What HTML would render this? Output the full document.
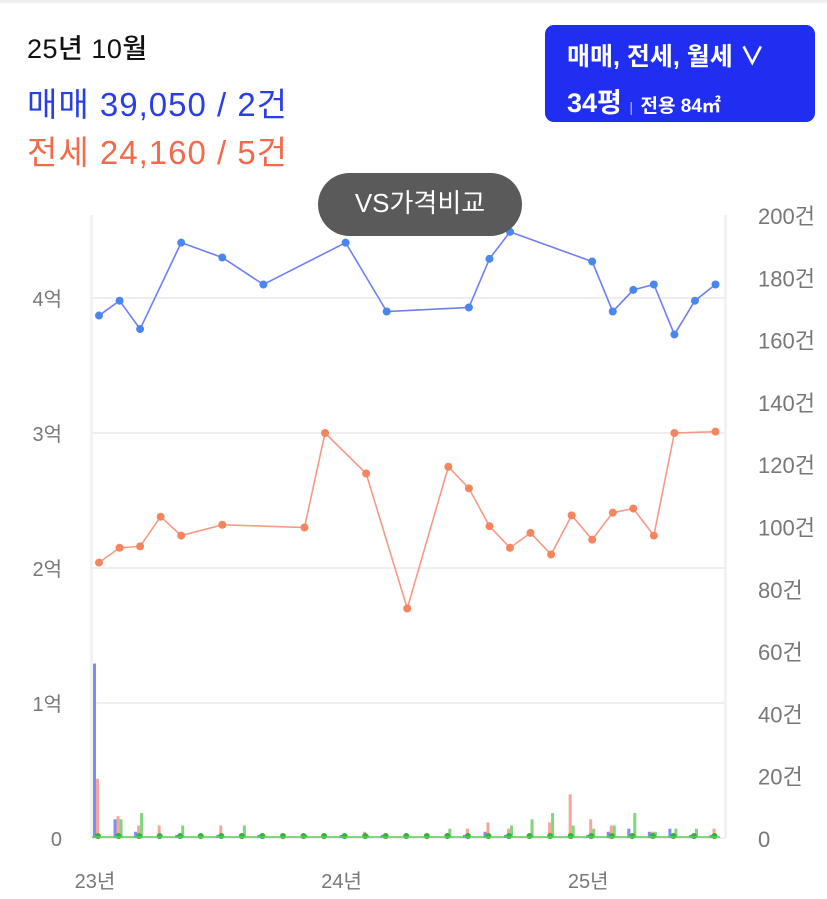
<!DOCTYPE html>
<html><head><meta charset="utf-8"><style>
body{margin:0;width:827px;height:899px;background:#fff;overflow:hidden;font-family:"Liberation Sans","Noto Sans CJK KR",sans-serif;}
.t{position:absolute;white-space:nowrap}
</style></head><body>
<div style="position:absolute;left:0;top:0;width:827px;height:3px;background:#eee"></div>
<div class="t" style="left:27px;top:27px;font-size:27px;letter-spacing:0.5px;color:#111;font-weight:500">25년 10월</div>
<div class="t" style="left:27px;top:78px;font-size:33px;letter-spacing:1px;color:#2a3ee6">매매 39,050 / 2건</div>
<div class="t" style="left:27px;top:126px;font-size:33px;letter-spacing:1px;color:#f26a4b">전세 24,160 / 5건</div>
<div style="position:absolute;left:545px;top:25px;width:270px;height:97px;background:#1f2ef0;border-radius:9px;color:#fff">
 <div class="t" style="left:22px;top:12px;font-size:25px;font-weight:bold">매매, 전세, 월세 ∨</div>
 <div class="t" style="left:22px;top:56px;font-size:27px;font-weight:bold">34평 <span style="font-size:14px;opacity:.7;font-weight:normal">|</span> <span style="font-size:19px">전용 84㎡</span></div>
</div>
<svg id="c" width="827" height="899" style="position:absolute;left:0;top:0"></svg>
<div style="position:absolute;left:318px;top:173px;width:204px;height:63px;background:#5a5a5a;border-radius:32px;color:#fff;font-size:26px;text-align:center;line-height:60px">VS가격비교</div>
<script>
const saleMonths=[0,1,2,4,6,8,12,14,18,19,20,24,25,26,27,28,29,30];
const salePrice=[3.87,3.98,3.77,4.41,4.30,4.10,4.41,3.90,3.93,4.29,4.49,4.27,3.90,4.06,4.10,3.73,3.98,4.10];
const jeonseMonths=[0,1,2,3,4,6,10,11,13,15,17,18,19,20,21,22,23,24,25,26,27,28,30];
const jeonsePrice=[2.04,2.15,2.16,2.38,2.24,2.32,2.30,3.00,2.70,1.70,2.75,2.59,2.31,2.15,2.26,2.10,2.39,2.21,2.41,2.44,2.24,3.00,3.01];
const saleCount=[56,6,2,0,1,0,1,0,1,0,0,0,1,0,1,0,0,0,1,2,1,0,0,0,1,2,3,2,3,1,1];
const jeonseCount=[19,7,4,4,0,0,4,0,0,0,0,0,0,2,0,0,0,0,3,5,3,0,5,14,6,4,0,2,0,0,3];
const monthlyCount=[0,6,8,0,4,0,0,4,0,0,1,0,0,1,0,0,0,3,0,0,4,6,8,4,3,4,8,2,3,3,0];
const leftTicks=["0","1억","2억","3억","4억"];
const rightTicks=["0","20건","40건","60건","80건","100건","120건","140건","160건","180건","200건"];
const xTicks=["23년","24년","25년"];
const NS="http://www.w3.org/2000/svg",svg=document.getElementById('c');
const X=m=>99+m*20.55, Y=v=>838-v*135, YC=n=>838-n*3.115;
function mk(t,a,p){const e=document.createElementNS(NS,t);for(const k in a)e.setAttribute(k,a[k]);(p||svg).appendChild(e);return e;}
let e;
e=mk('rect',{x:90,y:215,width:3,height:623,fill:'#f2f2f2'});
e=mk('rect',{x:724,y:215,width:3,height:623,fill:'#f2f2f2'});
leftTicks.forEach((t,i)=>{
 e=mk('line',{x1:92,x2:725,y1:Y(i),y2:Y(i),stroke:'#eee','stroke-width':2});
 e=mk('text',{x:62,y:Y(i)+8,'font-size':20,fill:'#777','text-anchor':'end'});e.textContent=t;
});
rightTicks.forEach((t,i)=>{
 e=mk('text',{x:758,y:YC(i*20)+9,'font-size':22,fill:'#777'});e.textContent=t;
});
xTicks.forEach((t,i)=>{
 e=mk('text',{x:95+i*12*20.55,y:888,'font-size':20,fill:'#777','text-anchor':'middle'});e.textContent=t;
});
saleCount.forEach((n,m)=>{
 if(saleCount[m]>0){e=mk('rect',{x:X(m)-6,y:YC(saleCount[m]),width:3,height:838-YC(saleCount[m]),fill:'#7f8cf2'});}
 if(jeonseCount[m]>0){e=mk('rect',{x:X(m)-3,y:YC(jeonseCount[m]),width:3,height:838-YC(jeonseCount[m]),fill:'#f6a597'});}
 if(monthlyCount[m]>0){e=mk('rect',{x:X(m),y:YC(monthlyCount[m]),width:3,height:838-YC(monthlyCount[m]),fill:'#7fd67f'});}
 e=mk('circle',{cx:X(m)-1,cy:836,r:3,fill:'#2fb52f'});
});
e=mk('line',{x1:92,x2:720,y1:837,y2:837,stroke:'#5fc95f','stroke-width':1.5});
function series(ms,vs,col,dot,name){
 e=mk('polyline',{points:ms.map((m,i)=>X(m)+','+Y(vs[i])).join(' '),fill:'none',stroke:col,'stroke-width':1.6});
 
 ms.forEach((m,i)=>{e=mk('circle',{cx:X(m),cy:Y(vs[i]),r:4,fill:dot});});
}
series(jeonseMonths,jeonsePrice,'#f59a85','#f5855f','jeonse');
series(saleMonths,salePrice,'#6f7ff0','#4a86f0','sale');
</script>
</body></html>
